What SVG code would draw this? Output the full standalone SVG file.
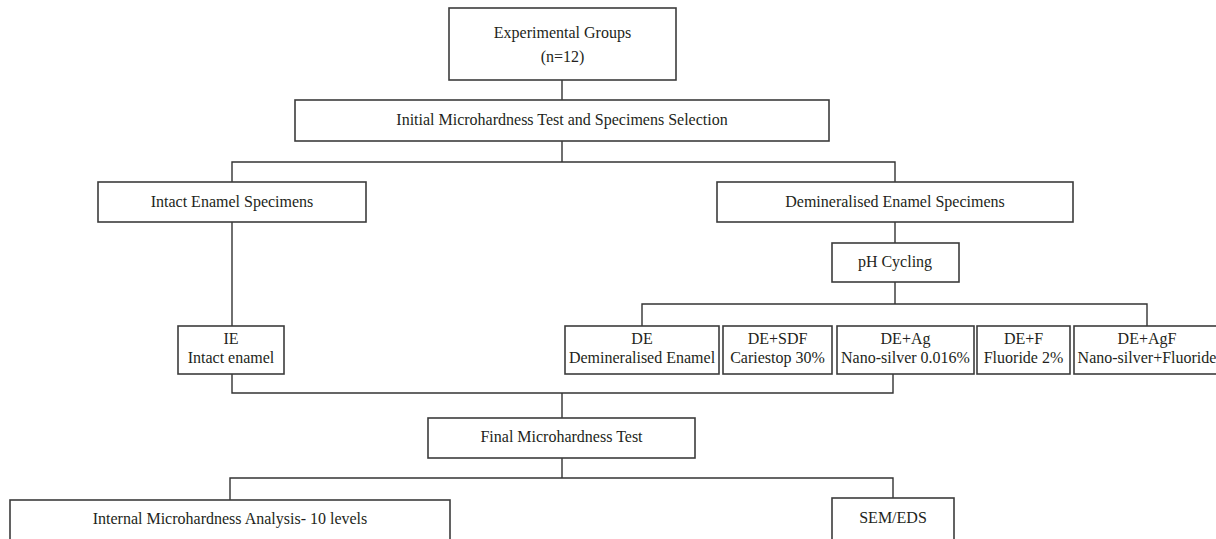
<svg xmlns="http://www.w3.org/2000/svg" width="1216" height="539" viewBox="0 0 1216 539">
<style>
.box{fill:#fff;stroke:#3c3c3c;stroke-width:1.6}
.t{font-family:"Liberation Serif","Times New Roman",serif;font-size:16px;fill:#231f20;text-anchor:middle}
.c{fill:none;stroke:#333;stroke-width:1.4}
</style>
<rect width="1216" height="539" fill="#fff"/>
<g id="connectors">
<path class="c" d="M562,80V100"/>
<path class="c" d="M562,141V162M232,182V162H895V182"/>
<path class="c" d="M232,222V326"/>
<path class="c" d="M895,222V243"/>
<path class="c" d="M895,282V304M642,326V304H1147V326"/>
<path class="c" d="M232,374V393H893V374M562,393V418"/>
<path class="c" d="M562,458V478M230,500V478H893V498"/>
</g>
<g id="n-groups"><rect class="box" x="449" y="8" width="227" height="72"/><text class="t" x="562.5" y="38">Experimental Groups</text><text class="t" x="562.5" y="62">(n=12)</text></g>
<g id="n-initial"><rect class="box" x="295" y="100" width="534" height="41"/><text class="t" x="562" y="125">Initial Microhardness Test and Specimens Selection</text></g>
<g id="n-intact"><rect class="box" x="98" y="182" width="268" height="40"/><text class="t" x="232" y="207">Intact Enamel Specimens</text></g>
<g id="n-demin"><rect class="box" x="717" y="182" width="356" height="40"/><text class="t" x="895" y="207">Demineralised Enamel Specimens</text></g>
<g id="n-ph"><rect class="box" x="832" y="243" width="127" height="39"/><text class="t" x="895" y="267">pH Cycling</text></g>
<g id="n-ie"><rect class="box" x="178" y="326" width="106" height="48"/><text class="t" x="231" y="344">IE</text><text class="t" x="231" y="363">Intact enamel</text></g>
<g id="n-de"><rect class="box" x="565" y="326" width="154" height="48"/><text class="t" x="642" y="344">DE</text><text class="t" x="642" y="363">Demineralised Enamel</text></g>
<g id="n-sdf"><rect class="box" x="723" y="326" width="109" height="48"/><text class="t" x="777.5" y="344">DE+SDF</text><text class="t" x="777.5" y="363">Cariestop 30%</text></g>
<g id="n-ag"><rect class="box" x="837" y="326" width="137" height="48"/><text class="t" x="905.5" y="344">DE+Ag</text><text class="t" x="905.5" y="363">Nano-silver 0.016%</text></g>
<g id="n-f"><rect class="box" x="977" y="326" width="93" height="48"/><text class="t" x="1023.5" y="344">DE+F</text><text class="t" x="1023.5" y="363">Fluoride 2%</text></g>
<g id="n-agf"><rect class="box" x="1074" y="326" width="146" height="48"/><text class="t" x="1147" y="344">DE+AgF</text><text class="t" x="1147" y="363">Nano-silver+Fluoride</text></g>
<g id="n-final"><rect class="box" x="428" y="418" width="267" height="40"/><text class="t" x="561.5" y="442">Final Microhardness Test</text></g>
<g id="n-internal"><rect class="box" x="10" y="500" width="440" height="44"/><text class="t" x="230" y="524">Internal Microhardness Analysis- 10 levels</text></g>
<g id="n-sem"><rect class="box" x="832" y="498" width="122" height="46"/><text class="t" x="893" y="523">SEM/EDS</text></g>
</svg>
